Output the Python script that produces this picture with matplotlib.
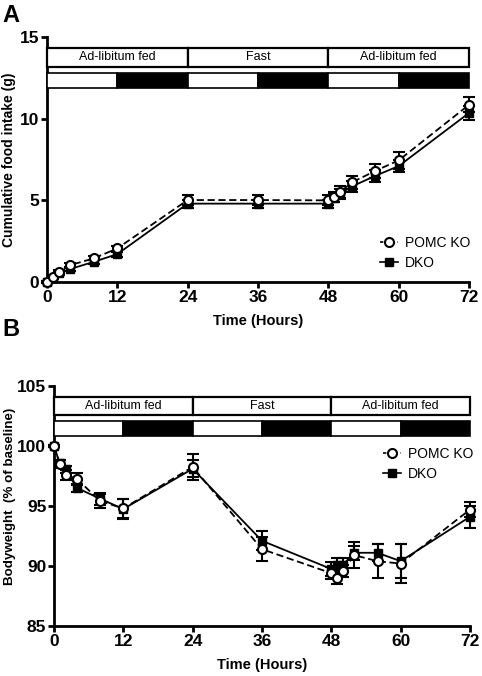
import numpy as np
import matplotlib as mpl
mpl.use('Agg')
import matplotlib.pyplot as plt
from matplotlib.patches import Rectangle
from matplotlib.transforms import blended_transform_factory
from matplotlib.lines import Line2D

# ==== Style ====
mpl.rcParams.update({
    'font.family': ['Liberation Sans', 'DejaVu Sans'],
    'font.size': 10,
    'axes.linewidth': 2.0,
    'xtick.major.width': 2.0,
    'ytick.major.width': 2.0,
    'xtick.major.size': 4,
    'ytick.major.size': 4,
})

# ==== Data ====
# Panel A: cumulative food intake (g)
time_a = [0, 1, 2, 4, 8, 12, 24, 36, 48, 49, 50, 52, 56, 60, 72]
pomc_food = [0.0, 0.30, 0.63, 1.04, 1.45, 2.06, 5.02, 5.02, 5.0, 5.2, 5.5, 6.1, 6.8, 7.45, 10.85]
pomc_food_err = [0.05, 0.05, 0.08, 0.1, 0.12, 0.15, 0.28, 0.28, 0.3, 0.3, 0.35, 0.4, 0.45, 0.5, 0.45]
dko_food = [0.0, 0.25, 0.53, 0.80, 1.24, 1.71, 4.80, 4.80, 4.80, 5.15, 5.4, 5.85, 6.5, 7.1, 10.35]
dko_food_err = [0.05, 0.05, 0.08, 0.1, 0.12, 0.15, 0.25, 0.25, 0.25, 0.28, 0.3, 0.35, 0.35, 0.35, 0.4]

# Panel B: bodyweight (% of baseline)
time_b = [0, 1, 2, 4, 8, 12, 24, 36, 48, 49, 50, 52, 56, 60, 72]
pomc_bw = [100.0, 98.5, 97.6, 97.25, 95.4, 94.8, 98.25, 91.4, 89.4, 89.0, 89.6, 90.9, 90.4, 90.2, 94.7]
pomc_bw_err = [0.1, 0.3, 0.4, 0.5, 0.6, 0.8, 1.1, 1.0, 0.5, 0.5, 0.5, 1.1, 1.4, 1.6, 0.6]
dko_bw = [100.0, 98.55, 98.05, 96.5, 95.6, 94.75, 98.1, 92.1, 89.75, 90.1, 90.1, 91.1, 91.1, 90.4, 94.1]
dko_bw_err = [0.1, 0.3, 0.3, 0.3, 0.5, 0.8, 0.7, 0.8, 0.6, 0.6, 0.6, 0.6, 0.7, 1.4, 0.9]

x_ticks = [0, 12, 24, 36, 48, 60, 72]
phase_labels = ['Ad-libitum fed', 'Fast', 'Ad-libitum fed']
phase_edges = [0, 24, 48, 72]
light_edges = [0, 12, 24, 36, 48, 60, 72]
light_fill = ['white', 'black', 'white', 'black', 'white', 'black']


def draw_banner(ax):
    trans = blended_transform_factory(ax.transData, ax.transAxes)
    for i, lab in enumerate(phase_labels):
        x0, x1 = phase_edges[i], phase_edges[i + 1]
        ax.add_patch(Rectangle((x0, 0.878), x1 - x0, 0.077, transform=trans,
                               facecolor='white', edgecolor='black', lw=1.6,
                               clip_on=False, zorder=5))
        ax.text((x0 + x1) / 2, 0.917, lab, transform=trans, ha='center',
                va='center', fontsize=9, zorder=6)
    for i, fc in enumerate(light_fill):
        x0, x1 = light_edges[i], light_edges[i + 1]
        ax.add_patch(Rectangle((x0, 0.793), x1 - x0, 0.060, transform=trans,
                               facecolor=fc, edgecolor='black', lw=1.2,
                               clip_on=False, zorder=5))


def draw_series(ax, t, pomc, pomc_err, dko, dko_err):
    ax.errorbar(t, dko, yerr=dko_err, color='black', ls='-', lw=1.3,
                marker='s', ms=6, mfc='black', mec='black',
                capsize=4, capthick=1.5, elinewidth=1.5, clip_on=False, zorder=3)
    ax.errorbar(t, pomc, yerr=pomc_err, color='black', ls='--', lw=1.3,
                dashes=(4, 2), marker='o', ms=6.5, mfc='white', mec='black', mew=1.5,
                capsize=4, capthick=1.5, elinewidth=1.5, clip_on=False, zorder=4)


def style_axes(ax):
    for s in ['top', 'right']:
        ax.spines[s].set_visible(False)
    ax.set_xlim(0, 72)
    ax.set_xticks(x_ticks)
    for lab in ax.get_xticklabels() + ax.get_yticklabels():
        lab.set_fontweight('bold')
        lab.set_fontsize(12.5)
    ax.tick_params(pad=1.5)
    ax.set_xlabel('Time (Hours)', fontsize=10.5, fontweight='bold', labelpad=7)


def add_legend(ax, loc):
    handles = [
        Line2D([], [], color='black', ls='--', dashes=(2, 1.5), lw=1.2, marker='o',
               ms=6.5, mfc='white', mec='black', mew=1.5),
        Line2D([], [], color='black', ls='-', lw=1.2, marker='s', ms=6,
               mfc='black', mec='black'),
    ]
    ax.legend(handles, ['POMC KO', 'DKO'], loc='center left', bbox_to_anchor=loc,
              frameon=False, handlelength=1.3, handletextpad=0.5,
              labelspacing=0.45, fontsize=10)


fig = plt.figure(figsize=(4.82, 6.76), dpi=100)

# ==== Panel A ====
ax1 = fig.add_axes([0.0975, 0.5828, 0.8755, 0.3624])
draw_series(ax1, time_a, pomc_food, pomc_food_err, dko_food, dko_food_err)
ax1.set_ylim(0, 15)
ax1.set_yticks([0, 5, 10, 15])
style_axes(ax1)
ax1.set_ylabel('Cumulative food intake (g)', fontsize=10, fontweight='bold')
ax1.yaxis.set_label_coords(-0.074, 0.5)
draw_banner(ax1)
add_legend(ax1, (0.76, 0.12))
fig.text(0.004, 0.977, 'A', fontsize=17, fontweight='bold', va='center')

# ==== Panel B ====
ax2 = fig.add_axes([0.112, 0.074, 0.863, 0.355])
draw_series(ax2, time_b, pomc_bw, pomc_bw_err, dko_bw, dko_bw_err)
ax2.set_ylim(85, 105)
ax2.set_yticks([85, 90, 95, 100, 105])
style_axes(ax2)
ax2.set_ylabel('Bodyweight  (% of baseline)', fontsize=9.6, fontweight='bold')
ax2.yaxis.set_label_coords(-0.092, 0.54)
draw_banner(ax2)
add_legend(ax2, (0.76, 0.675))
fig.text(0.004, 0.512, 'B', fontsize=17, fontweight='bold', va='center')

fig.savefig('out.png', dpi=100)
